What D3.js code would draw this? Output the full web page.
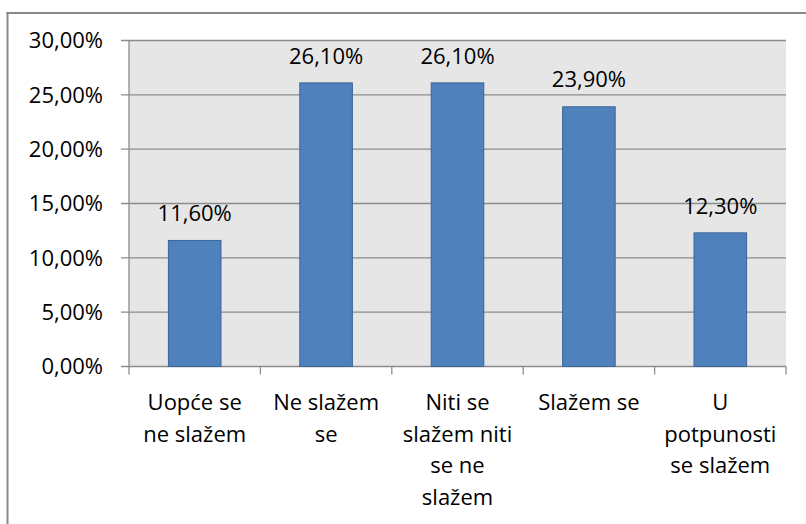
<!DOCTYPE html>
<html lang="hr">
<head>
  <meta charset="UTF-8">
  <title>Slaganje</title>
  <script src="https://d3js.org/d3.v7.min.js"></script>
  <style>
    body { margin: 0; background: white; }
    svg { display: block; }
    text {
      font-family: 'Open Sans', 'Noto Sans', sans-serif;
      font-size: 22px;
      fill: black;
    }
  </style>
</head>
<body>
  <svg width="806" height="524"></svg>

  <script>
    // Data
    const categories = ["Uopće se ne slažem", "Ne slažem se", "Niti se slažem niti se ne slažem", "Slažem se", "U potpunosti se slažem"];
    const categoryLines = [
      ["Uopće se", "ne slažem"],
      ["Ne slažem", "se"],
      ["Niti se", "slažem niti", "se ne", "slažem"],
      ["Slažem se"],
      ["U", "potpunosti", "se slažem"]
    ];
    const values = [11.6, 26.1, 26.1, 23.9, 12.3];
    const yTicks = [0, 5, 10, 15, 20, 25, 30];

    const fmt = v => v.toFixed(2).replace(".", ",") + "%";

    const svg = d3.select("svg");
    const margin = { top: 40.5, right: 20, bottom: 157.5, left: 129 };
    const width = 786 - margin.left;
    const height = 524 - margin.top - margin.bottom;

    // outer frame (left and top edges only are inside the picture)
    svg.append("rect")
      .attr("x", 6.5).attr("y", 12)
      .attr("width", 800).attr("height", 2)
      .attr("fill", "#8a8a8a");
    svg.append("rect")
      .attr("x", 6.5).attr("y", 12)
      .attr("width", 2).attr("height", 512)
      .attr("fill", "#8a8a8a");

    const g = svg.append("g").attr("transform", "translate(" + margin.left + "," + margin.top + ")");

    const x = d3.scaleBand()
      .domain(categories)
      .range([0, width])
      .paddingInner(0.6)
      .paddingOuter(0.3);

    const xEdges = d3.scaleBand().domain(categories).range([0, width]);

    const y = d3.scaleLinear()
      .domain([0, 30])
      .range([height, 0]);

    // plot background
    g.append("rect")
      .attr("width", width)
      .attr("height", height)
      .attr("fill", "#e6e6e6");

    // gridlines
    g.selectAll(".grid")
      .data(yTicks)
      .enter().append("line")
      .attr("x1", -8)
      .attr("x2", width)
      .attr("y1", d => y(d))
      .attr("y2", d => y(d))
      .attr("stroke", "#8c8c8c")
      .attr("stroke-width", 1.3);

    // y axis line
    g.append("line")
      .attr("x1", 0).attr("x2", 0)
      .attr("y1", 0).attr("y2", height)
      .attr("stroke", "#8c8c8c")
      .attr("stroke-width", 1.3);

    // y labels
    g.selectAll(".ylab")
      .data(yTicks)
      .enter().append("text")
      .attr("x", -26)
      .attr("y", d => y(d))
      .attr("dy", "0.35em")
      .attr("text-anchor", "end")
      .text(d => fmt(d));

    // x ticks
    const edges = categories.map(c => xEdges(c)).concat([width]);
    g.selectAll(".xtick")
      .data(edges)
      .enter().append("line")
      .attr("x1", d => d).attr("x2", d => d)
      .attr("y1", height).attr("y2", height + 8)
      .attr("stroke", "#8c8c8c")
      .attr("stroke-width", 1.3);

    // bars
    g.selectAll(".bar")
      .data(values)
      .enter().append("rect")
      .attr("x", (d, i) => x(categories[i]))
      .attr("y", d => y(d))
      .attr("width", x.bandwidth())
      .attr("height", d => height - y(d))
      .attr("fill", "#4f81bd")
      .attr("stroke", "#3a6597")
      .attr("stroke-width", 1);

    // value labels
    g.selectAll(".vlab")
      .data(values)
      .enter().append("text")
      .attr("x", (d, i) => x(categories[i]) + x.bandwidth() / 2)
      .attr("y", d => y(d) - 27)
      .attr("dy", "0.35em")
      .attr("text-anchor", "middle")
      .text(d => fmt(d));

    // category labels
    categoryLines.forEach((lines, i) => {
      const cx = x(categories[i]) + x.bandwidth() / 2;
      const t = g.append("text")
        .attr("text-anchor", "middle")
        .attr("y", height + 36);
      lines.forEach((ln, j) => {
        t.append("tspan")
          .attr("x", cx)
          .attr("dy", j === 0 ? "0.35em" : "31.5px")
          .text(ln);
      });
    });
  </script>
</body>
</html>
